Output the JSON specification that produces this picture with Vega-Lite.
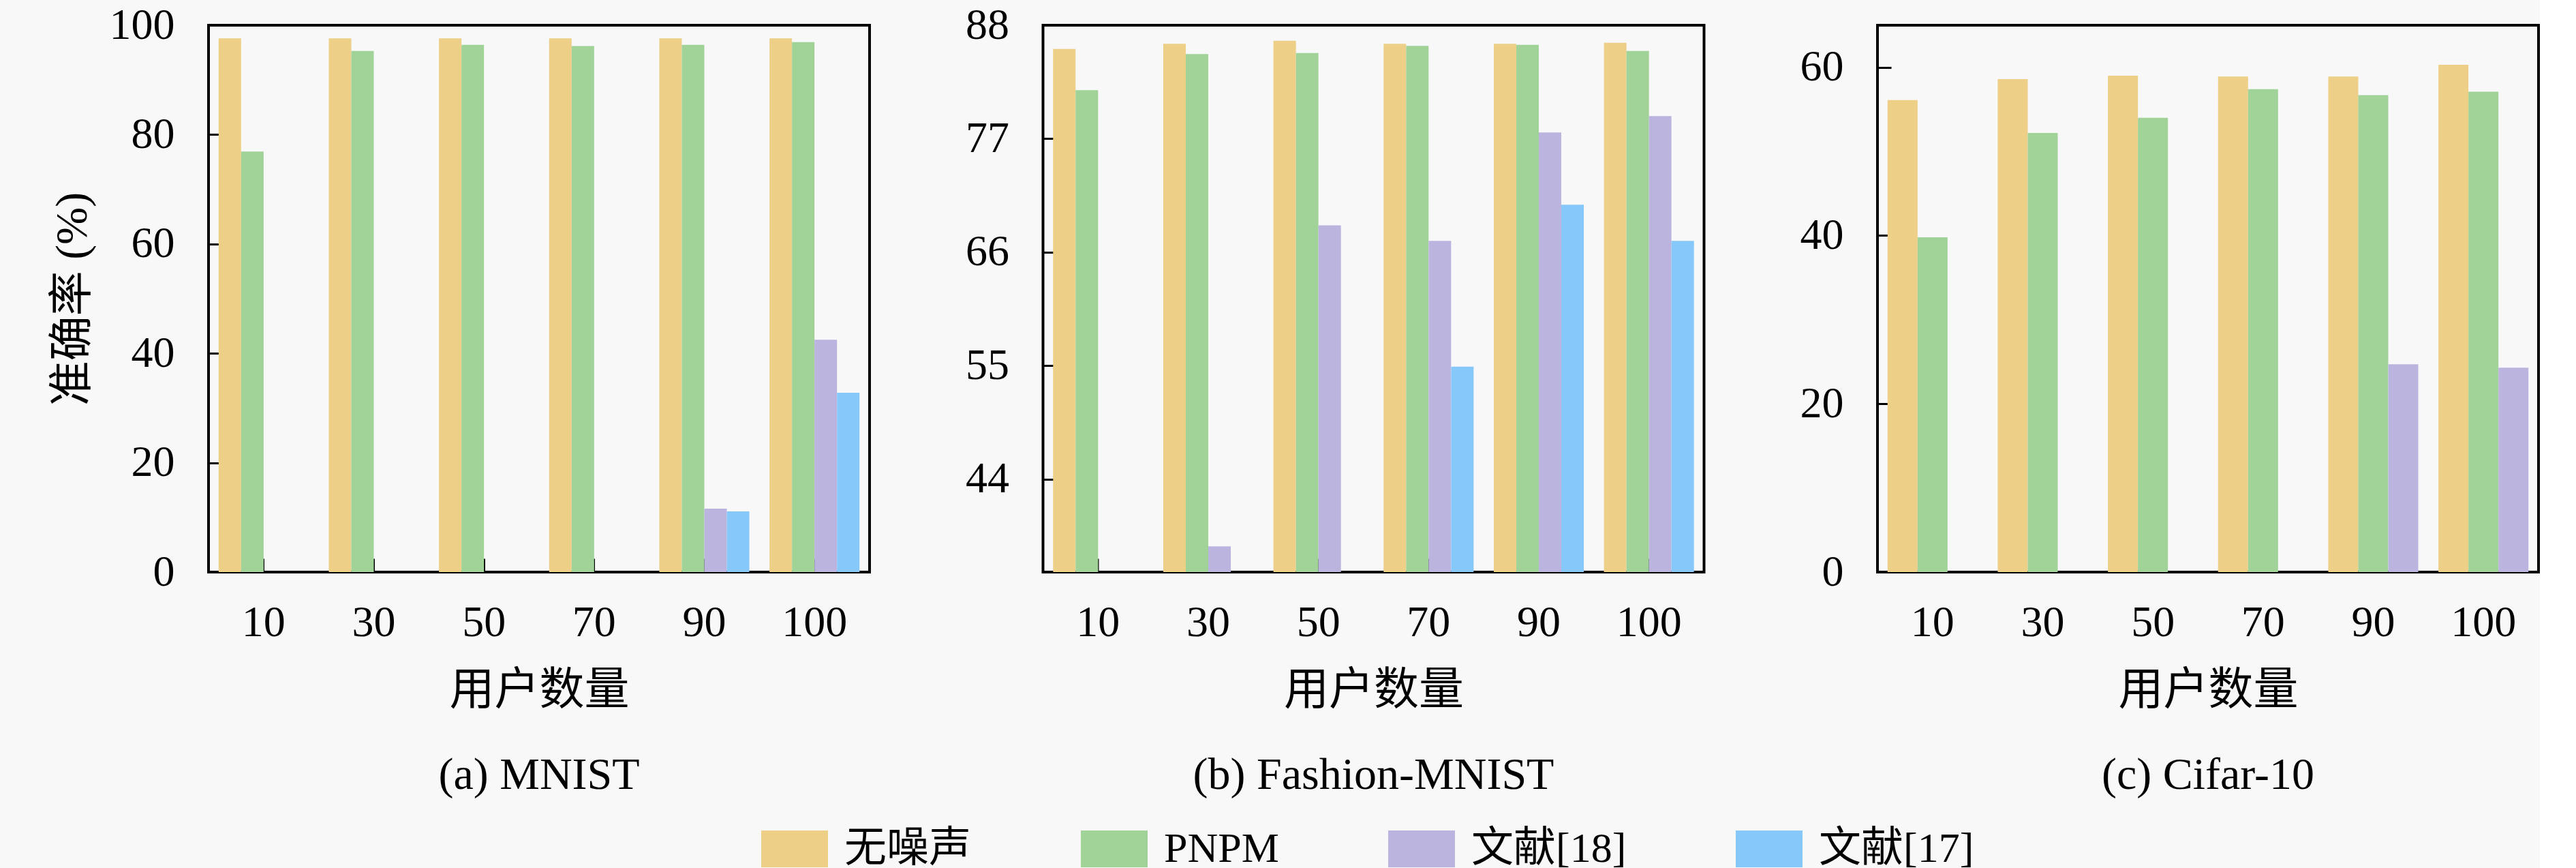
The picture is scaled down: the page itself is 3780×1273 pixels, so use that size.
{
  "$schema": "https://vega.github.io/schema/vega-lite/v6.json",
  "background": "#f8f8f8",
  "padding": {"left": 71, "top": 3, "right": 0, "bottom": 0},
  "spacing": 254.5,
  "bounds": "flush",
  "datasets": {
    "a": [
      {"users": 10, "method": "无噪声", "acc": 97.6},
      {"users": 10, "method": "PNPM", "acc": 76.9},
      {"users": 30, "method": "无噪声", "acc": 97.6},
      {"users": 30, "method": "PNPM", "acc": 95.3},
      {"users": 50, "method": "无噪声", "acc": 97.6},
      {"users": 50, "method": "PNPM", "acc": 96.4},
      {"users": 70, "method": "无噪声", "acc": 97.6},
      {"users": 70, "method": "PNPM", "acc": 96.2},
      {"users": 90, "method": "无噪声", "acc": 97.6},
      {"users": 90, "method": "PNPM", "acc": 96.4},
      {"users": 90, "method": "文献[18]", "acc": 11.6},
      {"users": 90, "method": "文献[17]", "acc": 11.1},
      {"users": 100, "method": "无噪声", "acc": 97.6},
      {"users": 100, "method": "PNPM", "acc": 96.9},
      {"users": 100, "method": "文献[18]", "acc": 42.5},
      {"users": 100, "method": "文献[17]", "acc": 32.8}
    ],
    "b": [
      {"users": 10, "method": "无噪声", "acc": 85.7},
      {"users": 10, "method": "PNPM", "acc": 81.7},
      {"users": 30, "method": "无噪声", "acc": 86.2},
      {"users": 30, "method": "PNPM", "acc": 85.2},
      {"users": 30, "method": "文献[18]", "acc": 37.5},
      {"users": 50, "method": "无噪声", "acc": 86.5},
      {"users": 50, "method": "PNPM", "acc": 85.3},
      {"users": 50, "method": "文献[18]", "acc": 68.6},
      {"users": 70, "method": "无噪声", "acc": 86.2},
      {"users": 70, "method": "PNPM", "acc": 86.0},
      {"users": 70, "method": "文献[18]", "acc": 67.1},
      {"users": 70, "method": "文献[17]", "acc": 54.9},
      {"users": 90, "method": "无噪声", "acc": 86.2},
      {"users": 90, "method": "PNPM", "acc": 86.1},
      {"users": 90, "method": "文献[18]", "acc": 77.6},
      {"users": 90, "method": "文献[17]", "acc": 70.6},
      {"users": 100, "method": "无噪声", "acc": 86.3},
      {"users": 100, "method": "PNPM", "acc": 85.5},
      {"users": 100, "method": "文献[18]", "acc": 79.2},
      {"users": 100, "method": "文献[17]", "acc": 67.1}
    ],
    "c": [
      {"users": 10, "method": "无噪声", "acc": 56.1},
      {"users": 10, "method": "PNPM", "acc": 39.8},
      {"users": 30, "method": "无噪声", "acc": 58.6},
      {"users": 30, "method": "PNPM", "acc": 52.2},
      {"users": 50, "method": "无噪声", "acc": 59.0},
      {"users": 50, "method": "PNPM", "acc": 54.0},
      {"users": 70, "method": "无噪声", "acc": 58.9},
      {"users": 70, "method": "PNPM", "acc": 57.4},
      {"users": 90, "method": "无噪声", "acc": 58.9},
      {"users": 90, "method": "PNPM", "acc": 56.7},
      {"users": 90, "method": "文献[18]", "acc": 24.7},
      {"users": 100, "method": "无噪声", "acc": 60.3},
      {"users": 100, "method": "PNPM", "acc": 57.1},
      {"users": 100, "method": "文献[18]", "acc": 24.3}
    ]
  },
  "hconcat": [
    {
      "width": 970, "height": 802,
      "data": {"name": "a"},
      "title": {"text": "(a) MNIST"},
      "mark": {"type": "bar"},
      "encoding": {
        "x": {"field": "users", "type": "ordinal", "scale": {"paddingInner": 0.183, "paddingOuter": 0.0915},
              "axis": {"title": "用户数量", "labelAngle": 0}},
        "xOffset": {"field": "method", "type": "nominal", "sort": ["无噪声", "PNPM", "文献[18]", "文献[17]"]},
        "y": {"field": "acc", "type": "quantitative", "scale": {"domain": [0, 100], "nice": false},
              "axis": {"title": "准确率 (%)", "values": [0, 20, 40, 60, 80, 100]}},
        "color": {"field": "method", "type": "nominal",
                  "scale": {"domain": ["无噪声", "PNPM", "文献[18]", "文献[17]"], "range": ["#EDCF87", "#A1D399", "#BAB4DF", "#85C8F9"]},
                  "legend": {"orient": "none", "legendX": 811, "legendY": 1159, "direction": "horizontal", "title": null}}
      }
    },
    {
      "width": 970, "height": 802,
      "data": {"name": "b"},
      "title": {"text": "(b) Fashion-MNIST"},
      "mark": {"type": "bar"},
      "encoding": {
        "x": {"field": "users", "type": "ordinal", "scale": {"paddingInner": 0.183, "paddingOuter": 0.0915},
              "axis": {"title": "用户数量", "labelAngle": 0}},
        "xOffset": {"field": "method", "type": "nominal", "sort": ["无噪声", "PNPM", "文献[18]", "文献[17]"]},
        "y": {"field": "acc", "type": "quantitative", "scale": {"domain": [35, 88], "nice": false, "zero": false, "clamp": true},
              "axis": {"title": null, "values": [44, 55, 66, 77, 88]}},
        "color": {"field": "method", "type": "nominal",
                  "scale": {"domain": ["无噪声", "PNPM", "文献[18]", "文献[17]"], "range": ["#EDCF87", "#A1D399", "#BAB4DF", "#85C8F9"]},
                  "legend": {"orient": "none", "legendX": 811, "legendY": 1159, "direction": "horizontal", "title": null}}
      }
    },
    {
      "width": 970, "height": 802,
      "data": {"name": "c"},
      "title": {"text": "(c) Cifar-10"},
      "mark": {"type": "bar"},
      "encoding": {
        "x": {"field": "users", "type": "ordinal", "scale": {"paddingInner": 0.183, "paddingOuter": 0.0915},
              "axis": {"title": "用户数量", "labelAngle": 0}},
        "xOffset": {"field": "method", "type": "nominal", "sort": ["无噪声", "PNPM", "文献[18]", "文献[17]"]},
        "y": {"field": "acc", "type": "quantitative", "scale": {"domain": [0, 65], "nice": false},
              "axis": {"title": null, "values": [0, 20, 40, 60]}},
        "color": {"field": "method", "type": "nominal",
                  "scale": {"domain": ["无噪声", "PNPM", "文献[18]", "文献[17]"], "range": ["#EDCF87", "#A1D399", "#BAB4DF", "#85C8F9"]},
                  "legend": {"orient": "none", "legendX": 811, "legendY": 1159, "direction": "horizontal", "title": null}}
      }
    }
  ],
  "resolve": {"scale": {"x": "independent", "y": "independent", "xOffset": "independent", "color": "shared"}},
  "config": {
    "font": "Liberation Serif, Noto Sans CJK SC",
    "view": {"stroke": "black", "strokeWidth": 4},
    "axis": {
      "labelFont": "Liberation Serif, Noto Sans CJK SC", "labelFontSize": 64, "labelColor": "black",
      "titleFont": "Liberation Serif, Noto Sans CJK SC", "titleFontSize": 66, "titleFontWeight": "normal", "titleColor": "black",
      "domain": false, "tickColor": "black", "tickWidth": 3, "tickSize": 20, "offset": -20,
      "grid": false, "zindex": 1
    },
    "axisX": {"labelPadding": 42, "titlePadding": 35},
    "axisY": {"labelPadding": 50, "titlePadding": 20},
    "title": {"font": "Liberation Serif, Noto Sans CJK SC", "fontSize": 66, "fontWeight": "normal", "color": "black", "orient": "bottom", "frame": "group", "anchor": "middle", "offset": 60},
    "legend": {
      "labelFont": "Liberation Serif, Noto Sans CJK SC", "labelFontSize": 62, "labelColor": "black", "labelLimit": 500,
      "symbolType": "M-1,-0.55H1V0.55H-1Z", "symbolSize": 9604, "symbolStrokeWidth": 0, "symbolOpacity": 1,
      "labelOffset": 24, "columnPadding": 160, "padding": 0
    }
  }
}
